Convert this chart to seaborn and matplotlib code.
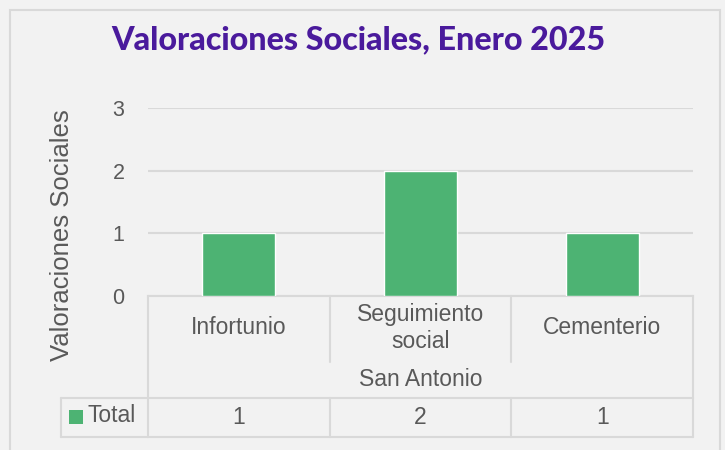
import matplotlib
matplotlib.use("Agg")
import matplotlib.pyplot as plt
import matplotlib.transforms as mtransforms
from matplotlib.lines import Line2D
from matplotlib.patches import Rectangle
import pandas as pd
import seaborn as sns

# data
categories = ["Infortunio", "Seguimiento\nsocial", "Cementerio"]
group_label = "San Antonio"
series_name = "Total"
values = [1, 2, 1]
y_ticks = [0, 1, 2, 3]

title = "Valoraciones Sociales, Enero 2025"
y_label = "Valoraciones Sociales"

bar_color = "#4db373"
grid_color = "#d9d9d9"
text_color = "#595959"
bg = "#f2f2f2"

W, H = 725, 450

sns.set_theme(style="white")
plt.rcParams["font.family"] = ["Liberation Sans", "DejaVu Sans"]

fig = plt.figure(figsize=(W / 100, H / 100), dpi=100, facecolor=bg)


def fx(x):
    return x / W


def fy(y):
    return 1 - y / H


# outer chart border
fig.add_artist(Rectangle((fx(10), fy(470)), fx(710), 460 / H, transform=fig.transFigure,
                         facecolor="none", edgecolor=grid_color, lw=1.5))

ax = fig.add_axes([fx(148), fy(296), fx(693 - 148), (296 - 108) / H])
ax.set_facecolor(bg)

df = pd.DataFrame({"cat": categories, "val": values})
sns.barplot(data=df, x="cat", y="val", color=bar_color, width=0.4, saturation=1, ax=ax, zorder=3)

ax.set_xlim(-0.5, len(categories) - 0.5)
ax.set_ylim(0, max(y_ticks))
ax.set_yticks(y_ticks)
ax.set_yticklabels([str(t) for t in y_ticks], fontsize=15.5, color=text_color)
ax.tick_params(axis="y", length=0, pad=17)
ax.set_xticks([])
ax.set_xlabel("")
ax.set_ylabel("")
ax.yaxis.grid(True, color=grid_color, lw=1.5, zorder=0)
for s in ["top", "right", "left"]:
    ax.spines[s].set_visible(False)
ax.spines["bottom"].set_color(grid_color)
ax.spines["bottom"].set_linewidth(1.5)
ax.set_axisbelow(True)

fig.text(fx(62), fy(235), y_label, rotation=90, ha="center", va="center",
         fontsize=18.5, color=text_color)

fig.text(fx(358), fy(40), title, ha="center", va="center", fontsize=23.2,
         fontweight="black", color="#4a1a9c", family=["Lato", "DejaVu Sans"])

# table below the axis: x in data units, y in figure units
tr = mtransforms.blended_transform_factory(ax.transData, fig.transFigure)
ftr = fig.transFigure
n = len(categories)
edges = [i - 0.5 for i in range(n + 1)]


def line(xs, ys, transform):
    fig.add_artist(Line2D(xs, [fy(y) for y in ys], transform=transform,
                          color=grid_color, lw=1.5))


for e in edges[1:-1]:
    line([e, e], [296, 362], tr)
    line([e, e], [398, 437], tr)
line([edges[0], edges[0]], [296, 437], tr)
line([edges[-1], edges[-1]], [296, 437], tr)

# data table rows, extended left to the legend cell
line([fx(61), fx(148)], [398, 398], ftr)
line([fx(61), fx(148)], [437, 437], ftr)
line([fx(61), fx(61)], [398, 437], ftr)
line([edges[0], edges[-1]], [398, 398], tr)
line([edges[0], edges[-1]], [437, 437], tr)

fs = 16.5
for i, c in enumerate(categories):
    fig.text(i, fy(328), c, transform=tr, ha="center", va="center", fontsize=fs,
             color=text_color, linespacing=1.2)
    fig.text(i, fy(417), str(values[i]), transform=tr, ha="center", va="center",
             fontsize=fs, color=text_color)

fig.text((edges[0] + edges[-1]) / 2, fy(380), group_label, transform=tr, ha="center",
         va="center", fontsize=fs, color=text_color)

fig.add_artist(Rectangle((fx(69), fy(424)), fx(14), 14 / H, transform=ftr,
                         facecolor=bar_color, edgecolor="none"))
fig.text(fx(88), fy(416), series_name, ha="left", va="center", fontsize=fs,
         color=text_color)

fig.savefig("out.png", dpi=100, facecolor=bg)
